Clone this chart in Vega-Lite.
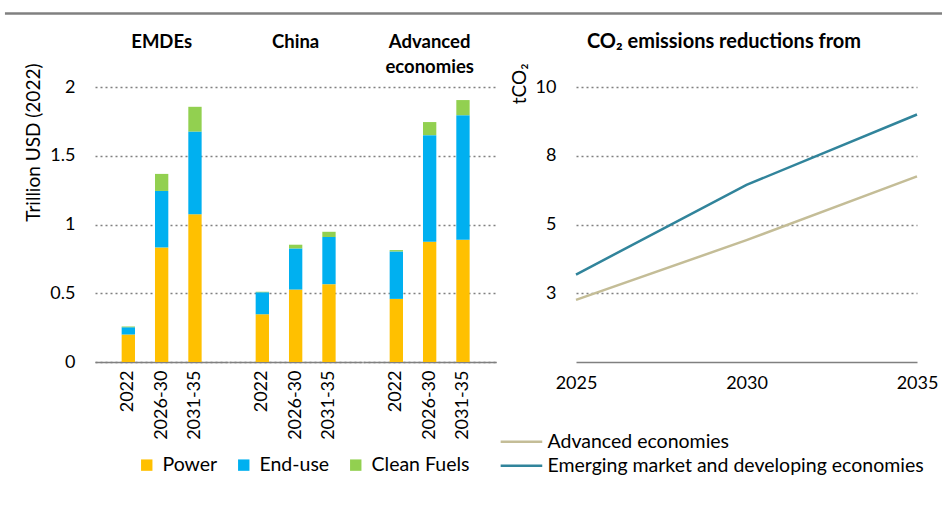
{
  "$schema": "https://vega.github.io/schema/vega-lite/v6.json",
  "background": "white",
  "padding": {"left": 3, "top": 12, "right": 0, "bottom": 5},
  "config": {
    "font": "Lato",
    "view": {"stroke": null},
    "axis": {
      "labelFont": "Lato", "titleFont": "Lato", "labelColor": "#000", "titleColor": "#000",
      "labelFontSize": 18, "titleFontSize": 19, "titleFontWeight": "normal",
      "gridColor": "#808080", "gridDash": [2, 3], "gridWidth": 1.3,
      "domainColor": "#808080", "domainWidth": 1.5, "ticks": false, "labelPadding": 20
    },
    "legend": {"labelFont": "Lato", "labelFontSize": 19.5, "labelColor": "#000", "labelLimit": 0},
    "header": {"labelFont": "Lato", "labelColor": "#000"},
    "title": {"font": "Lato", "color": "#000"}
  },
  "vconcat": [
    {
      "data": {"values": [{"s": 0, "e": 1}]},
      "width": 847,
      "height": 1,
      "mark": {"type": "rule", "color": "#808080", "strokeWidth": 2.5, "clip": false},
      "encoding": {
        "x": {"field": "s", "type": "quantitative", "scale": {"domain": [0.0961, 1], "nice": false, "zero": false}, "axis": null},
        "x2": {"field": "e"}
      }
    },
    {
      "hconcat": [
        {
          "data": {
            "values": [
              {"region": "EMDEs", "period": "2022", "category": "Power", "ord": 1, "value": 0.2},
              {"region": "EMDEs", "period": "2022", "category": "End-use", "ord": 2, "value": 0.053},
              {"region": "EMDEs", "period": "2022", "category": "Clean Fuels", "ord": 3, "value": 0.006},
              {"region": "EMDEs", "period": "2026-30", "category": "Power", "ord": 1, "value": 0.833},
              {"region": "EMDEs", "period": "2026-30", "category": "End-use", "ord": 2, "value": 0.411},
              {"region": "EMDEs", "period": "2026-30", "category": "Clean Fuels", "ord": 3, "value": 0.124},
              {"region": "EMDEs", "period": "2031-35", "category": "Power", "ord": 1, "value": 1.074},
              {"region": "EMDEs", "period": "2031-35", "category": "End-use", "ord": 2, "value": 0.602},
              {"region": "EMDEs", "period": "2031-35", "category": "Clean Fuels", "ord": 3, "value": 0.18},
              {"region": "China", "period": "2022", "category": "Power", "ord": 1, "value": 0.348},
              {"region": "China", "period": "2022", "category": "End-use", "ord": 2, "value": 0.16},
              {"region": "China", "period": "2022", "category": "Clean Fuels", "ord": 3, "value": 0.003},
              {"region": "China", "period": "2026-30", "category": "Power", "ord": 1, "value": 0.527},
              {"region": "China", "period": "2026-30", "category": "End-use", "ord": 2, "value": 0.299},
              {"region": "China", "period": "2026-30", "category": "Clean Fuels", "ord": 3, "value": 0.027},
              {"region": "China", "period": "2031-35", "category": "Power", "ord": 1, "value": 0.566},
              {"region": "China", "period": "2031-35", "category": "End-use", "ord": 2, "value": 0.343},
              {"region": "China", "period": "2031-35", "category": "Clean Fuels", "ord": 3, "value": 0.038},
              {"region": "Advanced economies", "period": "2022", "category": "Power", "ord": 1, "value": 0.459},
              {"region": "Advanced economies", "period": "2022", "category": "End-use", "ord": 2, "value": 0.345},
              {"region": "Advanced economies", "period": "2022", "category": "Clean Fuels", "ord": 3, "value": 0.01},
              {"region": "Advanced economies", "period": "2026-30", "category": "Power", "ord": 1, "value": 0.875},
              {"region": "Advanced economies", "period": "2026-30", "category": "End-use", "ord": 2, "value": 0.775},
              {"region": "Advanced economies", "period": "2026-30", "category": "Clean Fuels", "ord": 3, "value": 0.095},
              {"region": "Advanced economies", "period": "2031-35", "category": "Power", "ord": 1, "value": 0.889},
              {"region": "Advanced economies", "period": "2031-35", "category": "End-use", "ord": 2, "value": 0.906},
              {"region": "Advanced economies", "period": "2031-35", "category": "Clean Fuels", "ord": 3, "value": 0.11}
            ]
          },
          "facet": {
            "column": {
              "field": "region", "type": "nominal",
              "sort": ["EMDEs", "China", "Advanced economies"],
              "header": {
                "title": null, "labelOrient": "top", "labelFontWeight": "bold", "labelFontSize": 18.5,
                "labelBaseline": "top", "labelPadding": 11, "labelLineHeight": 25,
                "labelExpr": "datum.value == 'Advanced economies' ? ['Advanced', 'economies'] : [datum.value, ' ']"
              }
            }
          },
          "spacing": 0,
          "spec": {
            "width": 133.3,
            "height": 275,
            "mark": {"type": "bar"},
            "encoding": {
              "x": {
                "field": "period", "type": "nominal", "sort": ["2022", "2026-30", "2031-35"],
                "scale": {"paddingInner": 0.6, "paddingOuter": 0.8},
                "axis": {"title": null, "labelAngle": 270, "labelPadding": 8}
              },
              "y": {
                "field": "value", "type": "quantitative", "stack": "zero",
                "scale": {"domain": [0, 2]},
                "axis": {
                  "title": "Trillion USD (2022)", "values": [0, 0.5, 1, 1.5, 2], "format": "~g", "grid": true, "domain": false,
                  "titleAnchor": "end", "titleAlign": "right", "titleY": -24, "titlePadding": 6
                }
              },
              "color": {
                "field": "category", "type": "nominal",
                "scale": {"domain": ["Power", "End-use", "Clean Fuels"], "range": ["#FFC000", "#00B0F0", "#92D050"]},
                "legend": {
                  "title": null, "orient": "none", "direction": "horizontal",
                  "legendX": 42, "legendY": 368, "symbolType": "square", "symbolSize": 130,
                  "symbolStrokeWidth": 0, "symbolOpacity": 1, "columnPadding": 16, "labelOffset": 6
                }
              },
              "order": {"field": "ord", "type": "quantitative"}
            }
          }
        },
        {
          "data": {
            "values": [
              {"series": "Advanced economies", "year": 2025, "value": 2.26},
              {"series": "Advanced economies", "year": 2030, "value": 4.43},
              {"series": "Advanced economies", "year": 2035, "value": 6.75},
              {"series": "Emerging market and developing economies", "year": 2025, "value": 3.18},
              {"series": "Emerging market and developing economies", "year": 2030, "value": 6.44},
              {"series": "Emerging market and developing economies", "year": 2035, "value": 9.0}
            ]
          },
          "width": 341,
          "height": 275,
          "title": {"text": "CO₂ emissions reductions from", "fontSize": 20, "fontWeight": "bold", "anchor": "middle", "frame": "bounds", "offset": 11},
          "mark": {"type": "line", "strokeWidth": 2.5},
          "encoding": {
            "x": {
              "field": "year", "type": "quantitative",
              "scale": {"domain": [2025, 2035], "nice": false, "zero": false},
              "axis": {"values": [2025, 2030, 2035], "format": "d", "title": null, "grid": false, "labelPadding": 12, "labelFlush": false}
            },
            "y": {
              "field": "value", "type": "quantitative",
              "scale": {"domain": [0, 10]},
              "axis": {
                "values": [2.5, 5, 7.5, 10], "format": ".0f", "title": "tCO₂", "domain": false, "grid": true,
                "titleAnchor": "end", "titleAlign": "right", "titleY": -24, "titlePadding": 6
              }
            },
            "color": {
              "field": "series", "type": "nominal",
              "scale": {"domain": ["Advanced economies", "Emerging market and developing economies"], "range": ["#C4BD97", "#31849B"]},
              "legend": {
                "title": null, "orient": "none", "direction": "vertical",
                "legendX": -50, "legendY": 345, "symbolType": "M-5.4,0H1", "symbolSize": 169,
                "symbolStrokeWidth": 2.5, "labelOffset": 2, "rowPadding": 3
              }
            }
          }
        }
      ],
      "spacing": 13,
      "resolve": {"scale": {"color": "independent"}}
    }
  ],
  "spacing": 17
}
